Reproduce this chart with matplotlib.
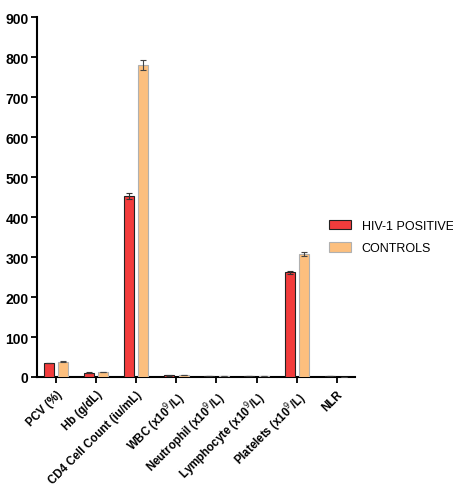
import matplotlib
matplotlib.use("Agg")
import matplotlib.pyplot as plt
import numpy as np

categories = ["PCV (%)", "Hb (g/dL)", "CD4 Cell Count (iu/mL)",
              "WBC (x10$^{9}$/L)", "Neutrophil (x10$^{9}$/L)",
              "Lymphocyte (x10$^{9}$/L)", "Platelets (x10$^{9}$/L)", "NLR"]
hiv_values = [35, 11, 452, 4, 2.8, 1.5, 262, 1.6]
hiv_err = [1, 0.5, 8, 0.3, 0.3, 0.2, 4, 0.2]
ctrl_values = [38, 12.5, 780, 5.5, 2.0, 1.8, 308, 1.1]
ctrl_err = [1, 0.5, 12, 0.3, 0.2, 0.2, 5, 0.1]
yticks = list(range(0, 901, 100))

plt.rcParams['font.family'] = ['Liberation Sans', 'DejaVu Sans']

fig = plt.figure(figsize=(4.53, 4.85), dpi=100)
ax = fig.add_axes([37/453, 1-378/485, (355-37)/453, 360/485])

x = np.arange(len(categories))
off = 0.18
w = 0.25
ax.bar(x - off, hiv_values, w, color='#f23c3c', edgecolor='#222222', linewidth=0.8,
       yerr=hiv_err, error_kw=dict(ecolor='#333333', elinewidth=0.8, capsize=2.5, capthick=0.8),
       label='HIV-1 POSITIVE', zorder=3)
ax.bar(x + off, ctrl_values, w, color='#fcbf7e', edgecolor='#b0b0b0', linewidth=0.8,
       yerr=ctrl_err, error_kw=dict(ecolor='#444444', elinewidth=0.8, capsize=2.5, capthick=0.8),
       label='CONTROLS', zorder=3)

ax.set_xlim(-0.47, 7.45)
ax.set_ylim(0, 900)
ax.set_yticks(yticks)
ax.set_yticklabels([str(t) for t in yticks], fontsize=10, fontweight='bold')
ax.set_xticks(x)
ax.set_xticklabels(categories, rotation=45, ha='right', rotation_mode='anchor',
                   fontsize=8.3, fontweight='bold')
for s in ['top', 'right']:
    ax.spines[s].set_visible(False)
for s in ['left', 'bottom']:
    ax.spines[s].set_linewidth(1.5)
ax.tick_params(axis='both', width=1.3, length=4, pad=2)
ax.tick_params(axis='x', pad=4)

ax.legend(loc='center left', bbox_to_anchor=(318/453, 1-238/485), bbox_transform=fig.transFigure,
          frameon=False, fontsize=9, handlelength=1.7, handleheight=0.8, labelspacing=0.8,
          handletextpad=0.9)

fig.savefig("out.png", dpi=100)
